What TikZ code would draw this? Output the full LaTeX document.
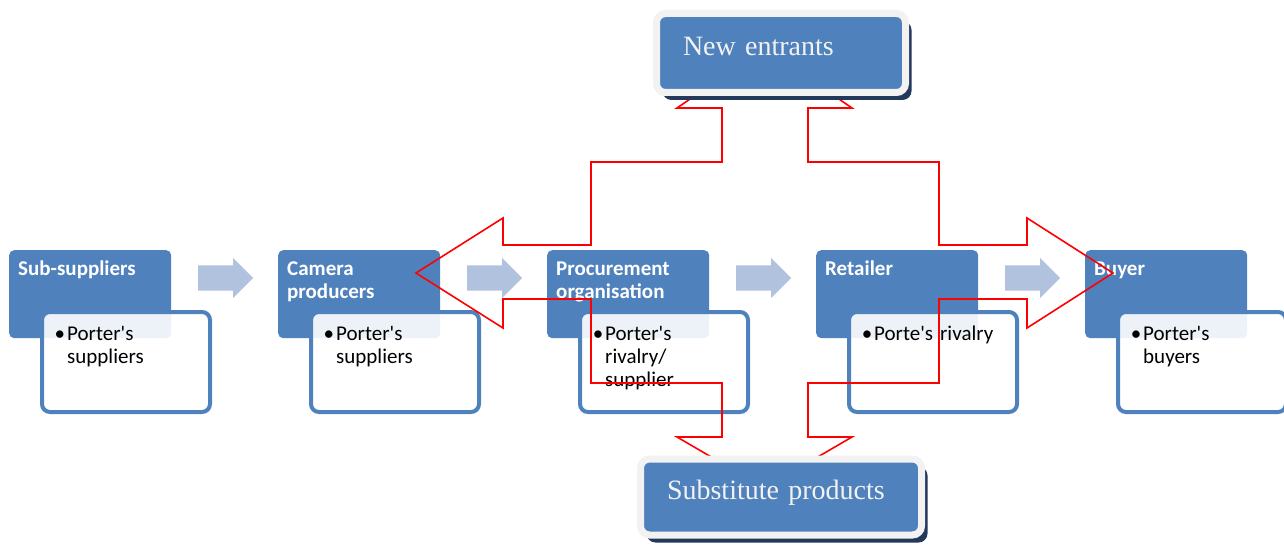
\documentclass[tikz,border=0pt]{standalone}
\usepackage{fontspec}
\setmainfont{Liberation Serif}
\setsansfont{Carlito}
\usepackage{tikz}
\usetikzlibrary{shapes.arrows,shadows,positioning}
\definecolor{chainblue}{HTML}{4F81BD}
\definecolor{chainlight}{HTML}{B0C2DE}
\definecolor{chainframe}{HTML}{F2F2F2}
\definecolor{chainshadow}{HTML}{22395C}
\definecolor{forcered}{HTML}{FF0000}

\begin{document}
\begin{tikzpicture}[x=1pt, y=-1pt,
  stage/.style={rectangle, rounded corners=5pt, fill=chainblue, anchor=north west,
                minimum width=162pt, minimum height=88pt, inner sep=0pt},
  porter/.style={rectangle, rounded corners=8pt, draw=chainblue, line width=4pt,
                 fill=white, fill opacity=0.9, anchor=north west,
                 minimum width=168pt, minimum height=100pt, inner sep=0pt},
  stagetext/.style={anchor=base west, inner sep=0pt, text width=150pt, align=left,
                    text=white, font=\sffamily\bfseries\fontsize{21}{23}\selectfont},
  portertext/.style={anchor=base west, inner sep=0pt, text width=130pt, align=left,
                     font=\sffamily\fontsize{21}{23}\selectfont},
  flow/.style={single arrow, fill=chainlight, minimum height=55pt, anchor=tail,
               single arrow head extend=7.5pt, inner xsep=0pt, inner ysep=12.5pt},
  force/.style={rectangle, rounded corners=9pt, fill=chainblue, draw=chainframe,
                line width=7pt, text=chainframe, font=\fontsize{28}{30}\selectfont,
                align=left, text height=19pt, text depth=14pt,
                drop shadow={shadow xshift=6pt, shadow yshift=-7.5pt,
                             fill=chainshadow, opacity=1}},
  rivalry/.style={draw=forcered, line width=1.6pt}
]
\useasboundingbox (0,0) rectangle (1284,545);

% value chain stages
\node[stage] (subsup) at (9,250) {};
\node[porter] (subsupf) at (40,310) {};
\node[stagetext] (subsupt) at (18,275) {Sub-suppliers};
\node[portertext] (subsupp) at (67,340) {\leavevmode\llap{\textbullet\hspace{2pt}}Porter\textquotesingle s\\suppliers};

\node[stage] (camera) at (278,250) {};
\node[porter] (cameraf) at (309,310) {};
\node[stagetext] (camerat) at (287,275) {Camera\\producers};
\node[portertext] (camerap) at (336,340) {\leavevmode\llap{\textbullet\hspace{2pt}}Porter\textquotesingle s\\suppliers};

\node[stage] (procure) at (547,250) {};
\node[porter] (procuref) at (578,310) {};
\node[stagetext] (procuret) at (556,275) {Procurement\\organisation};
\node[portertext] (procurep) at (605,340) {\leavevmode\llap{\textbullet\hspace{2pt}}Porter\textquotesingle s\\rivalry/\\supplier};

\node[stage] (retail) at (816,250) {};
\node[porter] (retailf) at (847,310) {};
\node[stagetext] (retailt) at (825,275) {Retailer};
\node[portertext] (retailp) at (874,340) {\leavevmode\llap{\textbullet\hspace{2pt}}Porte\textquotesingle s rivalry};

\node[stage] (buyer) at (1085,250) {};
\node[porter] (buyerf) at (1116,310) {};
\node[stagetext] (buyert) at (1094,275) {Buyer};
\node[portertext] (buyerp) at (1143,340) {\leavevmode\llap{\textbullet\hspace{2pt}}Porter\textquotesingle s\\buyers};

% flow between stages
\node[flow] (flow1) at (198,278) {};
\node[flow] (flow2) at (467,278) {};
\node[flow] (flow3) at (736,278) {};
\node[flow] (flow4) at (1005,278) {};

% four-way rivalry arrow
\draw[rivalry] (677,108) -- (722,108) -- (722,162) -- (591,162) -- (591,245)
  -- (503,245) -- (503,218) -- (416,273) -- (503,328) -- (503,299) -- (591,299)
  -- (591,383) -- (722,383) -- (722,437) -- (677,437) -- (764.5,488) -- (852,437)
  -- (808,437) -- (808,383) -- (939,383) -- (939,299) -- (1027,299) -- (1027,328)
  -- (1113,273) -- (1027,218) -- (1027,245) -- (939,245) -- (939,162) -- (808,162)
  -- (808,108) -- (852,108) -- (764.5,48) -- cycle;

% outside forces
\node[force, minimum width=249pt, minimum height=79pt, text width=196pt] (entrants) at (781,53) {New entrants};
\node[force, minimum width=281pt, minimum height=76pt, text width=228pt] (substitutes) at (781,497) {Substitute products};
\end{tikzpicture}
\end{document}
